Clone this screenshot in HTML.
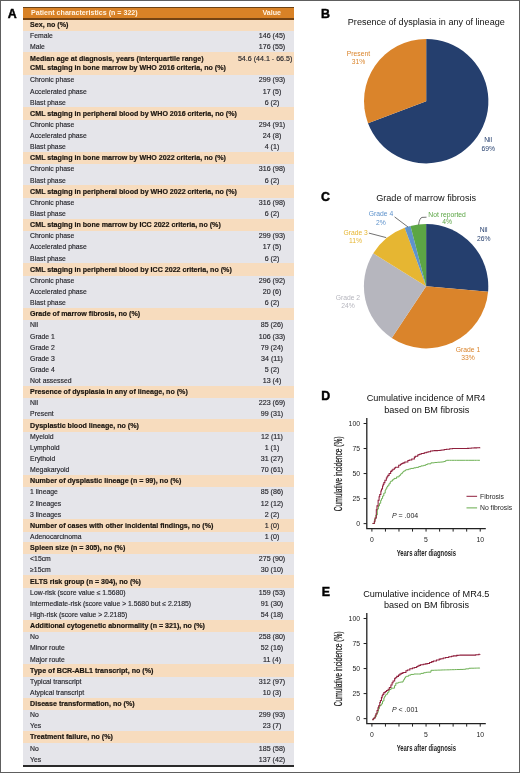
<!DOCTYPE html>
<html><head><meta charset="utf-8"><style>
html,body{margin:0;padding:0;}
body{width:520px;height:773px;position:relative;overflow:hidden;background:#fff;font-family:"Liberation Sans",sans-serif;}
#wrap{position:absolute;left:0;top:0;width:520px;height:773px;will-change:transform;}
.frame{position:absolute;left:0;top:0;width:520px;height:773px;box-sizing:border-box;border:1px solid #5e5e5e;pointer-events:none;}
.t{position:absolute;white-space:nowrap;line-height:1;}
.r{color:#26262c;-webkit-text-stroke:0.15px #26262c;}
.b{color:#1c1610;font-weight:bold;-webkit-text-stroke:0.2px #1c1610;}
.v{color:#26262c;-webkit-text-stroke:0.15px #26262c;}
.h{color:#fff4e4;font-weight:bold;}
.tt{color:#111;}
.ax{color:#1e1e1e;}
.yt{fill:#1e1e1e;stroke:#1e1e1e;stroke-width:0.25px;font-family:"Liberation Sans",sans-serif;}
.xt{fill:#1e1e1e;font-weight:bold;font-family:"Liberation Sans",sans-serif;}
.pl{color:#000;font-weight:bold;-webkit-text-stroke:0.45px #000;}
svg{position:absolute;left:0;top:0;}
</style></head><body><div id="wrap">
<div style="position:absolute;left:23.2px;top:19.5px;width:270.60px;height:745.94px;background:#e5e5ea"></div><div style="position:absolute;left:23.2px;top:19.50px;width:270.60px;height:11.20px;background:#f7dcbe"></div><div style="position:absolute;left:23.2px;top:51.61px;width:270.60px;height:23.64px;background:#f7dcbe"></div><div style="position:absolute;left:23.2px;top:107.30px;width:270.60px;height:12.50px;background:#f7dcbe"></div><div style="position:absolute;left:23.2px;top:151.84px;width:270.60px;height:12.50px;background:#f7dcbe"></div><div style="position:absolute;left:23.2px;top:185.25px;width:270.60px;height:12.50px;background:#f7dcbe"></div><div style="position:absolute;left:23.2px;top:218.67px;width:270.60px;height:12.50px;background:#f7dcbe"></div><div style="position:absolute;left:23.2px;top:263.21px;width:270.60px;height:12.50px;background:#f7dcbe"></div><div style="position:absolute;left:23.2px;top:307.76px;width:270.60px;height:12.50px;background:#f7dcbe"></div><div style="position:absolute;left:23.2px;top:385.72px;width:270.60px;height:12.50px;background:#f7dcbe"></div><div style="position:absolute;left:23.2px;top:419.13px;width:270.60px;height:12.50px;background:#f7dcbe"></div><div style="position:absolute;left:23.2px;top:474.82px;width:270.60px;height:12.50px;background:#f7dcbe"></div><div style="position:absolute;left:23.2px;top:519.37px;width:270.60px;height:12.50px;background:#f7dcbe"></div><div style="position:absolute;left:23.2px;top:541.64px;width:270.60px;height:12.50px;background:#f7dcbe"></div><div style="position:absolute;left:23.2px;top:575.05px;width:270.60px;height:12.50px;background:#f7dcbe"></div><div style="position:absolute;left:23.2px;top:619.60px;width:270.60px;height:12.50px;background:#f7dcbe"></div><div style="position:absolute;left:23.2px;top:664.15px;width:270.60px;height:12.50px;background:#f7dcbe"></div><div style="position:absolute;left:23.2px;top:697.56px;width:270.60px;height:12.50px;background:#f7dcbe"></div><div style="position:absolute;left:23.2px;top:730.97px;width:270.60px;height:12.50px;background:#f7dcbe"></div><div style="position:absolute;left:23.2px;top:7px;width:270.60px;height:12.5px;background:#d98226;border-top:1px solid #6b4215;border-bottom:2px solid #744312;box-sizing:border-box"></div><div class="t h" style="left:31.00px;top:10.00px;font-size:7.1px;">Patient characteristics (n = 322)</div><div class="t h" style="left:171.70px;width:200px;text-align:center;top:10.00px;font-size:7.1px;">Value</div><div style="position:absolute;left:23.2px;top:765.44px;width:270.60px;height:1.2px;background:#2a2a2a"></div>
<div class="t b" style="left:30.10px;top:22.00px;font-size:7.1px;">Sex, no (%)</div><div class="t r" style="left:30.10px;top:33.00px;font-size:6.85px;">Female</div><div class="t v" style="left:172.00px;width:200px;text-align:center;top:33.00px;font-size:7.1px;">146 (45)</div><div class="t r" style="left:30.10px;top:44.00px;font-size:6.85px;">Male</div><div class="t v" style="left:172.00px;width:200px;text-align:center;top:44.00px;font-size:7.1px;">176 (55)</div><div class="t b" style="left:30.10px;top:56.00px;font-size:7.1px;">Median age at diagnosis, years (interquartile range)</div><div class="t b" style="left:30.10px;top:65.00px;font-size:7.1px;">CML staging in bone marrow by WHO 2016 criteria, no (%)</div><div class="t v" style="left:92.30px;width:200px;text-align:right;top:56.00px;font-size:7.1px;">54.6 (44.1 - 66.5)</div><div class="t r" style="left:30.10px;top:77.00px;font-size:6.85px;">Chronic phase</div><div class="t v" style="left:172.00px;width:200px;text-align:center;top:77.00px;font-size:7.1px;">299 (93)</div><div class="t r" style="left:30.10px;top:89.00px;font-size:6.85px;">Accelerated phase</div><div class="t v" style="left:172.00px;width:200px;text-align:center;top:89.00px;font-size:7.1px;">17 (5)</div><div class="t r" style="left:30.10px;top:100.00px;font-size:6.85px;">Blast phase</div><div class="t v" style="left:172.00px;width:200px;text-align:center;top:100.00px;font-size:7.1px;">6 (2)</div><div class="t b" style="left:30.10px;top:111.00px;font-size:7.1px;">CML staging in peripheral blood by WHO 2016 criteria, no (%)</div><div class="t r" style="left:30.10px;top:122.00px;font-size:6.85px;">Chronic phase</div><div class="t v" style="left:172.00px;width:200px;text-align:center;top:122.00px;font-size:7.1px;">294 (91)</div><div class="t r" style="left:30.10px;top:133.00px;font-size:6.85px;">Accelerated phase</div><div class="t v" style="left:172.00px;width:200px;text-align:center;top:133.00px;font-size:7.1px;">24 (8)</div><div class="t r" style="left:30.10px;top:144.00px;font-size:6.85px;">Blast phase</div><div class="t v" style="left:172.00px;width:200px;text-align:center;top:144.00px;font-size:7.1px;">4 (1)</div><div class="t b" style="left:30.10px;top:155.00px;font-size:7.1px;">CML staging in bone marrow by WHO 2022 criteria, no (%)</div><div class="t r" style="left:30.10px;top:166.00px;font-size:6.85px;">Chronic phase</div><div class="t v" style="left:172.00px;width:200px;text-align:center;top:166.00px;font-size:7.1px;">316 (98)</div><div class="t r" style="left:30.10px;top:178.00px;font-size:6.85px;">Blast phase</div><div class="t v" style="left:172.00px;width:200px;text-align:center;top:178.00px;font-size:7.1px;">6 (2)</div><div class="t b" style="left:30.10px;top:189.00px;font-size:7.1px;">CML staging in peripheral blood by WHO 2022 criteria, no (%)</div><div class="t r" style="left:30.10px;top:200.00px;font-size:6.85px;">Chronic phase</div><div class="t v" style="left:172.00px;width:200px;text-align:center;top:200.00px;font-size:7.1px;">316 (98)</div><div class="t r" style="left:30.10px;top:211.00px;font-size:6.85px;">Blast phase</div><div class="t v" style="left:172.00px;width:200px;text-align:center;top:211.00px;font-size:7.1px;">6 (2)</div><div class="t b" style="left:30.10px;top:222.00px;font-size:7.1px;">CML staging in bone marrow by ICC 2022 criteria, no (%)</div><div class="t r" style="left:30.10px;top:233.00px;font-size:6.85px;">Chronic phase</div><div class="t v" style="left:172.00px;width:200px;text-align:center;top:233.00px;font-size:7.1px;">299 (93)</div><div class="t r" style="left:30.10px;top:244.00px;font-size:6.85px;">Accelerated phase</div><div class="t v" style="left:172.00px;width:200px;text-align:center;top:244.00px;font-size:7.1px;">17 (5)</div><div class="t r" style="left:30.10px;top:256.00px;font-size:6.85px;">Blast phase</div><div class="t v" style="left:172.00px;width:200px;text-align:center;top:256.00px;font-size:7.1px;">6 (2)</div><div class="t b" style="left:30.10px;top:267.00px;font-size:7.1px;">CML staging in peripheral blood by ICC 2022 criteria, no (%)</div><div class="t r" style="left:30.10px;top:278.00px;font-size:6.85px;">Chronic phase</div><div class="t v" style="left:172.00px;width:200px;text-align:center;top:278.00px;font-size:7.1px;">296 (92)</div><div class="t r" style="left:30.10px;top:289.00px;font-size:6.85px;">Accelerated phase</div><div class="t v" style="left:172.00px;width:200px;text-align:center;top:289.00px;font-size:7.1px;">20 (6)</div><div class="t r" style="left:30.10px;top:300.00px;font-size:6.85px;">Blast phase</div><div class="t v" style="left:172.00px;width:200px;text-align:center;top:300.00px;font-size:7.1px;">6 (2)</div><div class="t b" style="left:30.10px;top:311.00px;font-size:7.1px;">Grade of marrow fibrosis, no (%)</div><div class="t r" style="left:30.10px;top:322.00px;font-size:6.85px;">Nil</div><div class="t v" style="left:172.00px;width:200px;text-align:center;top:322.00px;font-size:7.1px;">85 (26)</div><div class="t r" style="left:30.10px;top:334.00px;font-size:6.85px;">Grade 1</div><div class="t v" style="left:172.00px;width:200px;text-align:center;top:334.00px;font-size:7.1px;">106 (33)</div><div class="t r" style="left:30.10px;top:345.00px;font-size:6.85px;">Grade 2</div><div class="t v" style="left:172.00px;width:200px;text-align:center;top:345.00px;font-size:7.1px;">79 (24)</div><div class="t r" style="left:30.10px;top:356.00px;font-size:6.85px;">Grade 3</div><div class="t v" style="left:172.00px;width:200px;text-align:center;top:356.00px;font-size:7.1px;">34 (11)</div><div class="t r" style="left:30.10px;top:367.00px;font-size:6.85px;">Grade 4</div><div class="t v" style="left:172.00px;width:200px;text-align:center;top:367.00px;font-size:7.1px;">5 (2)</div><div class="t r" style="left:30.10px;top:378.00px;font-size:6.85px;">Not assessed</div><div class="t v" style="left:172.00px;width:200px;text-align:center;top:378.00px;font-size:7.1px;">13 (4)</div><div class="t b" style="left:30.10px;top:389.00px;font-size:7.1px;">Presence of dysplasia in any of lineage, no (%)</div><div class="t r" style="left:30.10px;top:400.00px;font-size:6.85px;">Nil</div><div class="t v" style="left:172.00px;width:200px;text-align:center;top:400.00px;font-size:7.1px;">223 (69)</div><div class="t r" style="left:30.10px;top:411.00px;font-size:6.85px;">Present</div><div class="t v" style="left:172.00px;width:200px;text-align:center;top:411.00px;font-size:7.1px;">99 (31)</div><div class="t b" style="left:30.10px;top:423.00px;font-size:7.1px;">Dysplastic blood lineage, no (%)</div><div class="t r" style="left:30.10px;top:434.00px;font-size:6.85px;">Myeloid</div><div class="t v" style="left:172.00px;width:200px;text-align:center;top:434.00px;font-size:7.1px;">12 (11)</div><div class="t r" style="left:30.10px;top:445.00px;font-size:6.85px;">Lymphoid</div><div class="t v" style="left:172.00px;width:200px;text-align:center;top:445.00px;font-size:7.1px;">1 (1)</div><div class="t r" style="left:30.10px;top:456.00px;font-size:6.85px;">Erythoid</div><div class="t v" style="left:172.00px;width:200px;text-align:center;top:456.00px;font-size:7.1px;">31 (27)</div><div class="t r" style="left:30.10px;top:467.00px;font-size:6.85px;">Megakaryoid</div><div class="t v" style="left:172.00px;width:200px;text-align:center;top:467.00px;font-size:7.1px;">70 (61)</div><div class="t b" style="left:30.10px;top:478.00px;font-size:7.1px;">Number of dysplastic lineage (n = 99), no (%)</div><div class="t r" style="left:30.10px;top:489.00px;font-size:6.85px;">1 lineage</div><div class="t v" style="left:172.00px;width:200px;text-align:center;top:489.00px;font-size:7.1px;">85 (86)</div><div class="t r" style="left:30.10px;top:501.00px;font-size:6.85px;">2 lineages</div><div class="t v" style="left:172.00px;width:200px;text-align:center;top:501.00px;font-size:7.1px;">12 (12)</div><div class="t r" style="left:30.10px;top:512.00px;font-size:6.85px;">3 lineages</div><div class="t v" style="left:172.00px;width:200px;text-align:center;top:512.00px;font-size:7.1px;">2 (2)</div><div class="t b" style="left:30.10px;top:523.00px;font-size:7.1px;">Number of cases with other incidental findings, no (%)</div><div class="t v" style="left:172.00px;width:200px;text-align:center;top:523.00px;font-size:7.1px;">1 (0)</div><div class="t r" style="left:30.10px;top:534.00px;font-size:6.85px;">Adenocarcinoma</div><div class="t v" style="left:172.00px;width:200px;text-align:center;top:534.00px;font-size:7.1px;">1 (0)</div><div class="t b" style="left:30.10px;top:545.00px;font-size:7.1px;">Spleen size (n = 305), no (%)</div><div class="t r" style="left:30.10px;top:556.00px;font-size:6.85px;">&lt;15cm</div><div class="t v" style="left:172.00px;width:200px;text-align:center;top:556.00px;font-size:7.1px;">275 (90)</div><div class="t r" style="left:30.10px;top:567.00px;font-size:6.85px;">&ge;15cm</div><div class="t v" style="left:172.00px;width:200px;text-align:center;top:567.00px;font-size:7.1px;">30 (10)</div><div class="t b" style="left:30.10px;top:579.00px;font-size:7.1px;">ELTS risk group (n = 304), no (%)</div><div class="t r" style="left:30.10px;top:590.00px;font-size:6.85px;">Low-risk (score value &le; 1.5680)</div><div class="t v" style="left:172.00px;width:200px;text-align:center;top:590.00px;font-size:7.1px;">159 (53)</div><div class="t r" style="left:30.10px;top:601.00px;font-size:6.85px;">Intermediate-risk (score value &gt; 1.5680 but &le; 2.2185)</div><div class="t v" style="left:172.00px;width:200px;text-align:center;top:601.00px;font-size:7.1px;">91 (30)</div><div class="t r" style="left:30.10px;top:612.00px;font-size:6.85px;">High-risk (score value &gt; 2.2185)</div><div class="t v" style="left:172.00px;width:200px;text-align:center;top:612.00px;font-size:7.1px;">54 (18)</div><div class="t b" style="left:30.10px;top:623.00px;font-size:7.1px;">Additional cytogenetic abnormality (n = 321), no (%)</div><div class="t r" style="left:30.10px;top:634.00px;font-size:6.85px;">No</div><div class="t v" style="left:172.00px;width:200px;text-align:center;top:634.00px;font-size:7.1px;">258 (80)</div><div class="t r" style="left:30.10px;top:645.00px;font-size:6.85px;">Minor route</div><div class="t v" style="left:172.00px;width:200px;text-align:center;top:645.00px;font-size:7.1px;">52 (16)</div><div class="t r" style="left:30.10px;top:657.00px;font-size:6.85px;">Major route</div><div class="t v" style="left:172.00px;width:200px;text-align:center;top:657.00px;font-size:7.1px;">11 (4)</div><div class="t b" style="left:30.10px;top:668.00px;font-size:7.1px;">Type of BCR-ABL1 transcript, no (%)</div><div class="t r" style="left:30.10px;top:679.00px;font-size:6.85px;">Typical transcript</div><div class="t v" style="left:172.00px;width:200px;text-align:center;top:679.00px;font-size:7.1px;">312 (97)</div><div class="t r" style="left:30.10px;top:690.00px;font-size:6.85px;">Atypical transcript</div><div class="t v" style="left:172.00px;width:200px;text-align:center;top:690.00px;font-size:7.1px;">10 (3)</div><div class="t b" style="left:30.10px;top:701.00px;font-size:7.1px;">Disease transformation, no (%)</div><div class="t r" style="left:30.10px;top:712.00px;font-size:6.85px;">No</div><div class="t v" style="left:172.00px;width:200px;text-align:center;top:712.00px;font-size:7.1px;">299 (93)</div><div class="t r" style="left:30.10px;top:723.00px;font-size:6.85px;">Yes</div><div class="t v" style="left:172.00px;width:200px;text-align:center;top:723.00px;font-size:7.1px;">23 (7)</div><div class="t b" style="left:30.10px;top:734.00px;font-size:7.1px;">Treatment failure, no (%)</div><div class="t r" style="left:30.10px;top:746.00px;font-size:6.85px;">No</div><div class="t v" style="left:172.00px;width:200px;text-align:center;top:746.00px;font-size:7.1px;">185 (58)</div><div class="t r" style="left:30.10px;top:757.00px;font-size:6.85px;">Yes</div><div class="t v" style="left:172.00px;width:200px;text-align:center;top:757.00px;font-size:7.1px;">137 (42)</div>
<svg width="520" height="773" viewBox="0 0 520 773"><path d="M426.20,101.20 L426.20,39.00 A62.2,62.2 0 1 1 368.01,123.17 Z" fill="#253f6e"/><path d="M426.20,101.20 L368.01,123.17 A62.2,62.2 0 0 1 426.20,39.00 Z" fill="#da842b"/><path d="M426.10,286.20 L426.10,224.00 A62.2,62.2 0 0 1 488.06,291.65 Z" fill="#253f6e"/><path d="M426.10,286.20 L488.06,291.65 A62.2,62.2 0 0 1 391.73,338.04 Z" fill="#da842b"/><path d="M426.10,286.20 L391.73,338.04 A62.2,62.2 0 0 1 373.27,253.36 Z" fill="#b6b6be"/><path d="M426.10,286.20 L373.27,253.36 A62.2,62.2 0 0 1 404.70,227.80 Z" fill="#e6b632"/><path d="M426.10,286.20 L404.70,227.80 A62.2,62.2 0 0 1 410.49,225.99 Z" fill="#5f93cc"/><path d="M426.10,286.20 L410.49,225.99 A62.2,62.2 0 0 1 426.10,224.00 Z" fill="#5ca645"/><path d="M394.6,216.9 L408,227" stroke="#333" stroke-width="0.7" fill="none"/><path d="M368.9,233.1 L386.2,237.6" stroke="#333" stroke-width="0.7" fill="none"/><path d="M426.5,217.2 L422,217.4 Q419.5,218 418.6,224.8" stroke="#333" stroke-width="0.7" fill="none"/><path d="M366.8,418.1 V528.6 H485.8" stroke="#222" stroke-width="1.3" fill="none"/><path d="M363.6,423.50 H366.8" stroke="#222" stroke-width="1"/><path d="M363.6,448.53 H366.8" stroke="#222" stroke-width="1"/><path d="M363.6,473.56 H366.8" stroke="#222" stroke-width="1"/><path d="M363.6,498.59 H366.8" stroke="#222" stroke-width="1"/><path d="M363.6,523.62 H366.8" stroke="#222" stroke-width="1"/><path d="M371.90,528.6 V531.6" stroke="#222" stroke-width="1"/><path d="M385.44,528.6 V531.6" stroke="#222" stroke-width="1"/><path d="M398.98,528.6 V531.6" stroke="#222" stroke-width="1"/><path d="M412.52,528.6 V531.6" stroke="#222" stroke-width="1"/><path d="M426.06,528.6 V531.6" stroke="#222" stroke-width="1"/><path d="M439.60,528.6 V531.6" stroke="#222" stroke-width="1"/><path d="M453.14,528.6 V531.6" stroke="#222" stroke-width="1"/><path d="M466.68,528.6 V531.6" stroke="#222" stroke-width="1"/><path d="M480.22,528.6 V531.6" stroke="#222" stroke-width="1"/><path d="M372.50,523.40 H374.63 V519.04 H375.79 V514.98 H377.31 V509.10 H378.38 V505.96 H379.49 V503.29 H380.68 V500.42 H381.46 V498.57 H382.57 V495.99 H383.80 V493.15 H385.20 V490.13 H385.89 V488.78 H386.79 V487.01 H387.48 V485.88 H388.89 V483.79 H390.19 V481.87 H390.83 V481.12 H392.41 V479.76 H393.98 V478.42 H396.61 V476.87 H399.15 V475.38 H400.54 V474.24 H401.16 V473.61 H402.29 V472.46 H402.95 V471.79 H403.74 V470.98 H405.34 V470.01 H406.42 V469.68 H408.58 V469.03 H410.68 V468.43 H413.78 V467.84 H416.08 V467.40 H418.68 V466.60 H420.93 V465.90 H423.59 V465.36 H425.73 V464.56 H427.43 V463.84 H430.92 V462.84 H434.41 V462.48 H437.51 V462.22 H440.28 V462.06 H442.07 V461.95 H443.64 V461.54 H445.36 V460.71 H446.54 V460.30 H449.46 H451.46 H454.57 H456.54 H459.93 H463.05 H464.05 H465.58 H468.85 H471.03 H474.48 H476.47 H477.66 H479.90" stroke="#66ac4c" stroke-width="0.95" fill="none" stroke-linejoin="miter"/><path d="M372.50,523.40 H374.31 V521.25 H375.06 V517.94 H376.31 V509.80 H376.98 V505.88 H378.12 V500.22 H379.09 V496.82 H379.74 V494.50 H380.85 V491.01 H381.49 V489.07 H382.52 V486.04 H383.19 V484.35 H383.88 V482.61 H384.91 V480.29 H386.33 V477.93 H387.06 V476.73 H387.88 V475.36 H389.11 V473.57 H390.66 V471.39 H391.83 V470.19 H392.83 V469.34 H394.41 V467.99 H395.52 V467.15 H398.67 V465.28 H400.39 V464.26 H401.75 V463.52 H403.05 V462.88 H404.82 V461.99 H407.86 V460.56 H409.31 V459.96 H411.77 V458.95 H414.36 V457.14 H415.33 V456.33 H417.70 V455.02 H418.86 V454.53 H420.01 V454.04 H421.53 V453.51 H424.23 V452.81 H426.30 V452.23 H428.08 V451.71 H430.54 V450.98 H432.68 V450.76 H434.43 V450.63 H437.41 V450.41 H440.16 V450.20 H441.77 V449.93 H444.21 V449.50 H446.52 V449.16 H449.71 V448.69 H452.53 V448.50 H454.25 H457.70 H459.00 H461.04 H463.93 H465.31 H467.54 V448.37 H468.63 V448.29 H471.31 V448.09 H474.22 V447.87 H476.65 V447.67 H479.84 V447.41 H479.90" stroke="#8f1f3c" stroke-width="1.05" fill="none" stroke-linejoin="miter"/><path d="M366.8,613.1 V723.6 H485.8" stroke="#222" stroke-width="1.3" fill="none"/><path d="M363.6,618.50 H366.8" stroke="#222" stroke-width="1"/><path d="M363.6,643.53 H366.8" stroke="#222" stroke-width="1"/><path d="M363.6,668.56 H366.8" stroke="#222" stroke-width="1"/><path d="M363.6,693.59 H366.8" stroke="#222" stroke-width="1"/><path d="M363.6,718.62 H366.8" stroke="#222" stroke-width="1"/><path d="M371.90,723.6 V726.6" stroke="#222" stroke-width="1"/><path d="M385.44,723.6 V726.6" stroke="#222" stroke-width="1"/><path d="M398.98,723.6 V726.6" stroke="#222" stroke-width="1"/><path d="M412.52,723.6 V726.6" stroke="#222" stroke-width="1"/><path d="M426.06,723.6 V726.6" stroke="#222" stroke-width="1"/><path d="M439.60,723.6 V726.6" stroke="#222" stroke-width="1"/><path d="M453.14,723.6 V726.6" stroke="#222" stroke-width="1"/><path d="M466.68,723.6 V726.6" stroke="#222" stroke-width="1"/><path d="M480.22,723.6 V726.6" stroke="#222" stroke-width="1"/><path d="M372.30,719.60 H373.35 V718.37 H374.51 V717.01 H376.04 V714.49 H377.10 V712.31 H378.21 V708.78 H379.40 V706.20 H380.18 V705.42 H381.29 V703.92 H382.52 V701.07 H383.92 V697.85 H384.61 V696.35 H385.51 V695.13 H386.20 V694.19 H387.61 V692.29 H388.91 V690.41 H389.55 V689.46 H391.13 V688.18 H394.54 V685.61 H395.80 V683.10 H398.34 V682.40 H399.73 V682.21 H400.77 V682.02 H403.09 V680.66 H403.75 V679.49 H404.54 V678.08 H405.38 V676.81 H406.46 V676.27 H408.62 V675.19 H410.72 V674.44 H413.82 V674.00 H416.12 H418.72 H420.97 V673.39 H423.63 V672.71 H425.77 V672.34 H427.47 V672.17 H430.96 V670.30 H434.45 V670.19 H437.55 V670.10 H440.32 V670.02 H442.11 V669.96 H443.68 V669.92 H445.40 V669.87 H446.58 V669.83 H449.50 V669.74 H451.50 V669.68 H454.61 V669.59 H456.58 V669.53 H459.97 V669.43 H463.09 V669.34 H464.09 V669.31 H465.62 V668.85 H468.89 V668.26 H471.07 V668.21 H474.52 V668.13 H476.51 V668.08 H477.70 V668.05 H479.90 V668.00" stroke="#66ac4c" stroke-width="0.95" fill="none" stroke-linejoin="miter"/><path d="M372.30,719.60 H373.22 V718.71 H373.97 V718.00 H375.23 V715.78 H375.90 V713.83 H377.03 V710.55 H378.00 V707.70 H378.66 V705.73 H379.77 V702.40 H380.40 V700.57 H381.44 V697.60 H382.11 V695.67 H382.80 V694.38 H383.82 V692.63 H385.25 V691.52 H386.56 V690.57 H388.12 V689.28 H389.34 V687.47 H390.89 V684.94 H392.07 V682.78 H393.06 V680.96 H394.64 V678.61 H395.29 V677.80 H396.75 V676.36 H398.47 V675.11 H399.83 V674.12 H401.13 V673.39 H402.90 V672.44 H405.94 V670.82 H407.39 V670.06 H409.84 V668.79 H412.44 V668.03 H414.37 V667.46 H416.74 V666.53 H417.90 V665.95 H419.05 V665.38 H420.56 V664.73 H423.26 V664.23 H425.33 V663.85 H427.12 V663.43 H429.58 V662.46 H431.71 V661.61 H433.46 V660.91 H436.45 V659.98 H439.20 V659.11 H440.81 V658.66 H443.24 V658.07 H445.56 V657.52 H448.74 V656.81 H451.57 V656.22 H453.29 V655.86 H456.74 V655.37 H458.03 V655.28 H460.08 V655.12 H462.97 V655.10 H464.35 H466.57 H467.67 H470.34 H473.25 H475.69 V654.79 H478.87 V654.27 H479.90 V654.10" stroke="#8f1f3c" stroke-width="1.05" fill="none" stroke-linejoin="miter"/><path d="M466.5,496.3 H477.1" stroke="#8f1f3c" stroke-width="1"/><path d="M466.5,507.9 H477.1" stroke="#66ac4c" stroke-width="1"/><text transform="translate(342.0,473.8) rotate(-90)" x="0" y="0" text-anchor="middle" font-size="10" textLength="74.8" lengthAdjust="spacingAndGlyphs" class="yt">Cumulative incidence (%)</text><text x="426.35" y="555.9" text-anchor="middle" font-size="9.1" textLength="59.3" lengthAdjust="spacingAndGlyphs" class="xt">Years after diagnosis</text><text transform="translate(342.0,668.8) rotate(-90)" x="0" y="0" text-anchor="middle" font-size="10" textLength="74.8" lengthAdjust="spacingAndGlyphs" class="yt">Cumulative incidence (%)</text><text x="426.35" y="750.9" text-anchor="middle" font-size="9.1" textLength="59.3" lengthAdjust="spacingAndGlyphs" class="xt">Years after diagnosis</text></svg>
<div class="t ax" style="left:160.00px;width:200px;text-align:right;top:421.00px;font-size:6.85px;">100</div><div class="t ax" style="left:160.00px;width:200px;text-align:right;top:446.00px;font-size:6.85px;">75</div><div class="t ax" style="left:160.00px;width:200px;text-align:right;top:471.00px;font-size:6.85px;">50</div><div class="t ax" style="left:160.00px;width:200px;text-align:right;top:496.00px;font-size:6.85px;">25</div><div class="t ax" style="left:160.00px;width:200px;text-align:right;top:521.00px;font-size:6.85px;">0</div><div class="t ax" style="left:271.90px;width:200px;text-align:center;top:537.00px;font-size:6.85px;">0</div><div class="t ax" style="left:326.00px;width:200px;text-align:center;top:537.00px;font-size:6.85px;">5</div><div class="t ax" style="left:380.20px;width:200px;text-align:center;top:537.00px;font-size:6.85px;">10</div><div class="t ax" style="left:391.90px;top:512.00px;font-size:7.0px;"><i>P</i> = .004</div><div class="t ax" style="left:160.00px;width:200px;text-align:right;top:616.00px;font-size:6.85px;">100</div><div class="t ax" style="left:160.00px;width:200px;text-align:right;top:641.00px;font-size:6.85px;">75</div><div class="t ax" style="left:160.00px;width:200px;text-align:right;top:666.00px;font-size:6.85px;">50</div><div class="t ax" style="left:160.00px;width:200px;text-align:right;top:691.00px;font-size:6.85px;">25</div><div class="t ax" style="left:160.00px;width:200px;text-align:right;top:716.00px;font-size:6.85px;">0</div><div class="t ax" style="left:271.90px;width:200px;text-align:center;top:732.00px;font-size:6.85px;">0</div><div class="t ax" style="left:326.00px;width:200px;text-align:center;top:732.00px;font-size:6.85px;">5</div><div class="t ax" style="left:380.20px;width:200px;text-align:center;top:732.00px;font-size:6.85px;">10</div><div class="t ax" style="left:391.90px;top:706.00px;font-size:7.0px;"><i>P</i> &lt; .001</div><div class="t ax" style="left:480.00px;top:494.00px;font-size:6.8px;">Fibrosis</div><div class="t ax" style="left:480.00px;top:505.00px;font-size:6.8px;">No fibrosis</div><div class="t tt" style="left:326.30px;width:200px;text-align:center;top:18.00px;font-size:9.05px;">Presence of dysplasia in any of lineage</div><div class="t tt" style="left:326.10px;width:200px;text-align:center;top:194.00px;font-size:9.15px;">Grade of marrow fibrosis</div><div class="t tt" style="left:326.00px;width:200px;text-align:center;top:394.00px;font-size:9.15px;">Cumulative incidence of MR4</div><div class="t tt" style="left:326.80px;width:200px;text-align:center;top:406.00px;font-size:9.15px;">based on BM fibrosis</div><div class="t tt" style="left:326.30px;width:200px;text-align:center;top:590.00px;font-size:9.15px;">Cumulative incidence of MR4.5</div><div class="t tt" style="left:326.50px;width:200px;text-align:center;top:601.00px;font-size:9.15px;">based on BM fibrosis</div><div class="t pl" style="left:7.70px;top:8.00px;font-size:12.4px;">A</div><div class="t pl" style="left:321.00px;top:8.00px;font-size:12.4px;">B</div><div class="t pl" style="left:321.00px;top:191.00px;font-size:12.4px;">C</div><div class="t pl" style="left:321.30px;top:390.00px;font-size:12.4px;">D</div><div class="t pl" style="left:321.80px;top:586.00px;font-size:12.4px;">E</div><div class="t pl2" style="left:258.50px;width:200px;text-align:center;top:51.00px;font-size:6.75px;color:#da842b">Present</div><div class="t pl2" style="left:258.50px;width:200px;text-align:center;top:59.00px;font-size:6.75px;color:#da842b">31%</div><div class="t pl2" style="left:388.20px;width:200px;text-align:center;top:137.00px;font-size:6.75px;color:#253f6e">Nil</div><div class="t pl2" style="left:388.20px;width:200px;text-align:center;top:146.00px;font-size:6.75px;color:#253f6e">69%</div><div class="t pl2" style="left:383.70px;width:200px;text-align:center;top:227.00px;font-size:6.75px;color:#253f6e">Nil</div><div class="t pl2" style="left:383.70px;width:200px;text-align:center;top:236.00px;font-size:6.75px;color:#253f6e">26%</div><div class="t pl2" style="left:281.00px;width:200px;text-align:center;top:211.00px;font-size:6.75px;color:#5f93cc">Grade 4</div><div class="t pl2" style="left:281.00px;width:200px;text-align:center;top:220.00px;font-size:6.75px;color:#5f93cc">2%</div><div class="t pl2" style="left:347.10px;width:200px;text-align:center;top:212.00px;font-size:6.75px;color:#5ca645">Not reported</div><div class="t pl2" style="left:347.10px;width:200px;text-align:center;top:219.00px;font-size:6.75px;color:#5ca645">4%</div><div class="t pl2" style="left:255.60px;width:200px;text-align:center;top:230.00px;font-size:6.75px;color:#e6b632">Grade 3</div><div class="t pl2" style="left:255.60px;width:200px;text-align:center;top:238.00px;font-size:6.75px;color:#e6b632">11%</div><div class="t pl2" style="left:247.90px;width:200px;text-align:center;top:295.00px;font-size:6.75px;color:#b6b6be">Grade 2</div><div class="t pl2" style="left:247.90px;width:200px;text-align:center;top:303.00px;font-size:6.75px;color:#b6b6be">24%</div><div class="t pl2" style="left:368.00px;width:200px;text-align:center;top:347.00px;font-size:6.75px;color:#da842b">Grade 1</div><div class="t pl2" style="left:368.00px;width:200px;text-align:center;top:355.00px;font-size:6.75px;color:#da842b">33%</div>
<div class="frame"></div>
</div></body></html>
